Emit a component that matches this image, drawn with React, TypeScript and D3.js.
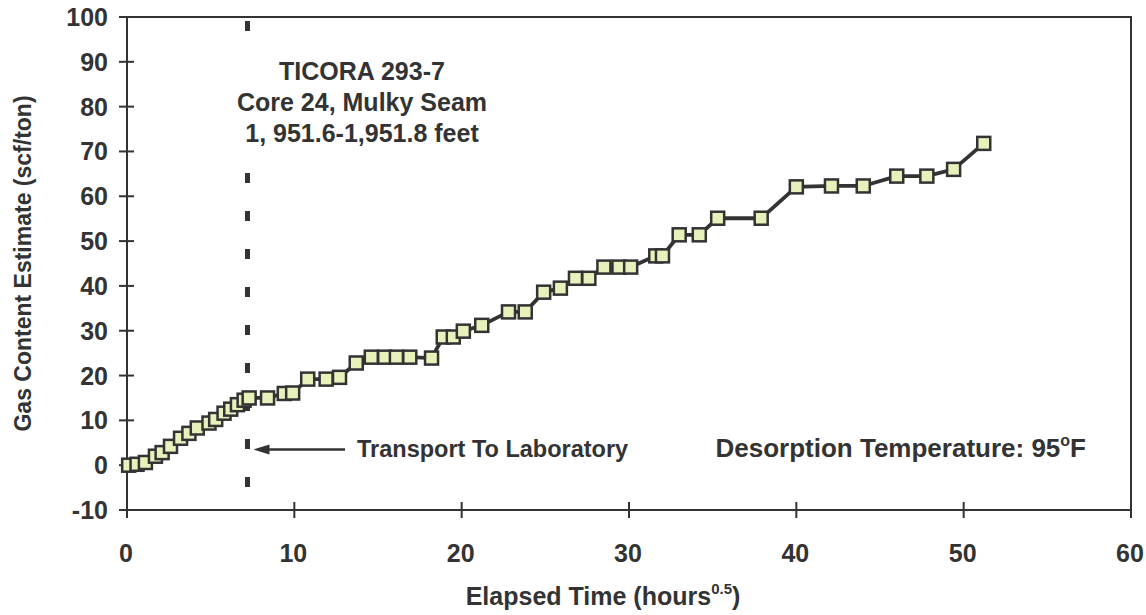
import React from "react";
import * as d3 from "d3";

const timeValues = [
  0.1, 0.6, 1.1, 1.7, 2.1, 2.6, 3.2, 3.7, 4.2, 4.9, 5.3, 5.8, 6.2, 6.6, 7.0, 7.3,
  8.4, 9.4, 9.9, 10.8, 11.9, 12.7, 13.7, 14.6, 15.4, 16.1, 16.9, 18.2, 18.9, 19.5,
  20.1, 21.2, 22.8, 23.8, 24.9, 25.9, 26.8, 27.6, 28.5, 29.4, 30.1, 31.6, 32.0,
  33.0, 34.2, 35.3, 37.9, 40.0, 42.1, 44.0, 46.0, 47.8, 49.4, 51.2,
];
const gasValues = [
  0, 0.2, 0.6, 2.0, 2.8, 4.2, 6.0, 7.1, 8.3, 9.4, 10.2, 11.6, 12.5, 13.5, 14.5, 15.0,
  15.0, 16.0, 16.1, 19.2, 19.2, 19.6, 22.8, 24.1, 24.1, 24.1, 24.1, 23.9, 28.6, 28.6,
  29.9, 31.2, 34.2, 34.2, 38.6, 39.5, 41.7, 41.7, 44.2, 44.2, 44.2, 46.7, 46.7,
  51.4, 51.4, 55.1, 55.1, 62.1, 62.3, 62.3, 64.5, 64.5, 66.0, 71.8,
];
const xTicks = [0, 10, 20, 30, 40, 50, 60];
const yTicks = [-10, 0, 10, 20, 30, 40, 50, 60, 70, 80, 90, 100];
const transportTime = 7.2;
const arrowY = 3.5;
const titleLines = ["TICORA 293-7", "Core 24, Mulky Seam", "1, 951.6-1,951.8 feet"];

const W = 1146;
const H = 615;
const ink = "#333";
const font = "'Liberation Sans', Arial, sans-serif";

export default function App() {
  const x = d3.scaleLinear().domain([0, 60]).range([127, 1131]);
  const y = d3.scaleLinear().domain([-10, 100]).range([510, 17]);
  const pts = timeValues.map((t, i) => [t, gasValues[i]] as [number, number]);
  const line = d3
    .line<[number, number]>()
    .x((d) => x(d[0]))
    .y((d) => y(d[1]));
  const ms = 13;
  return (
    <svg width={W} height={H} style={{ position: "absolute", left: 0, top: 0, background: "#fff" }}>
      <rect x={0} y={0} width={W} height={H} fill="#fff" />
      {/* frame */}
      <rect x={x(0)} y={y(100)} width={x(60) - x(0)} height={y(-10) - y(100)} fill="none" stroke={ink} strokeWidth={2} />
      {/* y ticks */}
      {yTicks.map((v) => (
        <g key={"y" + v}>
          <line x1={x(0) - 8} x2={x(0) + 7} y1={y(v)} y2={y(v)} stroke={ink} strokeWidth={2} />
          <text x={108} y={y(v)} dy="0.36em" textAnchor="end" fontFamily={font} fontWeight="bold" fontSize={25} fill={ink}>
            {v}
          </text>
        </g>
      ))}
      {/* x ticks */}
      {xTicks.map((v) => (
        <g key={"x" + v}>
          <line x1={x(v)} x2={x(v)} y1={y(-10) - 8} y2={y(-10) + 8} stroke={ink} strokeWidth={2} />
          <text x={x(v) - 1} y={562} textAnchor="middle" fontFamily={font} fontWeight="bold" fontSize={25} fill={ink}>
            {v}
          </text>
        </g>
      ))}
      {/* dashed transport line */}
      <line
        x1={x(transportTime)}
        x2={x(transportTime)}
        y1={y(100) + 2}
        y2={y(-10)}
        stroke={ink}
        strokeWidth={5}
        strokeDasharray="10 28"
        strokeDashoffset={-2}
      />
      {/* title box (white background covering the dashed line) */}
      <rect x={228} y={55} width={272} height={97} fill="#fff" />
      {titleLines.map((t, i) => (
        <text key={t} x={362} y={80 + i * 31} textAnchor="middle" fontFamily={font} fontWeight="bold" fontSize={25} fill={ink}>
          {t}
        </text>
      ))}
      {/* data line */}
      <path d={line(pts) || ""} fill="none" stroke={ink} strokeWidth={3.8} />
      {pts.map((p, i) => (
        <rect
          key={i}
          x={x(p[0]) - ms / 2}
          y={y(p[1]) - ms / 2}
          width={ms}
          height={ms}
          fill="#e8f0bc"
          stroke={ink}
          strokeWidth={2.5}
        />
      ))}
      {/* arrow */}
      <line x1={x(transportTime) + 18} x2={345} y1={y(arrowY)} y2={y(arrowY)} stroke={ink} strokeWidth={2.5} />
      <path
        d={`M${x(transportTime) + 6},${y(arrowY)} L${x(transportTime) + 22},${y(arrowY) - 5} L${x(transportTime) + 22},${y(arrowY) + 5} Z`}
        fill={ink}
      />
      <text x={357} y={y(arrowY) + 8} fontFamily={font} fontWeight="bold" fontSize={23.5} fill={ink}>
        Transport To Laboratory
      </text>
      <text x={1086} y={y(arrowY) + 8} textAnchor="end" fontFamily={font} fontWeight="bold" fontSize={26} fill={ink}>
        Desorption Temperature: 95
        <tspan dy={-11} fontSize={16}>o</tspan>
        <tspan dy={11}>F</tspan>
      </text>
      {/* axis titles */}
      <text
        transform={`translate(31,${(y(100) + y(-10)) / 2}) rotate(-90)`}
        textAnchor="middle"
        fontFamily={font}
        fontWeight="bold"
        fontSize={23}
        fill={ink}
      >
        Gas Content Estimate (scf/ton)
      </text>
      <text x={603} y={605} textAnchor="middle" fontFamily={font} fontWeight="bold" fontSize={25} fill={ink}>
        Elapsed Time (hours
        <tspan dy={-11} fontSize={15}>0.5</tspan>
        <tspan dy={11}>)</tspan>
      </text>
    </svg>
  );
}
